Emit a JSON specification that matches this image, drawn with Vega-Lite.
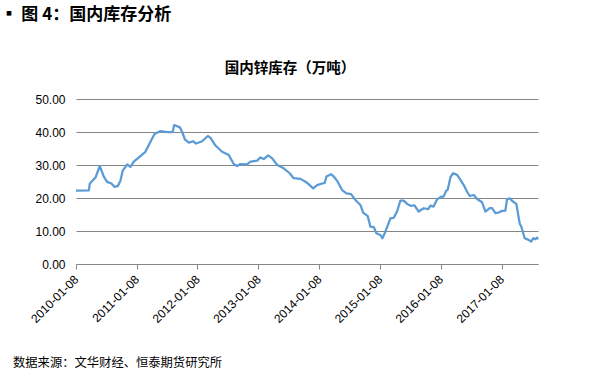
{
  "$schema": "https://vega.github.io/schema/vega-lite/v6.json",
  "padding": {"left": 0, "top": 5, "right": 5, "bottom": 5},
  "background": "white",
  "title": {
    "text": "▪ 图 4：国内库存分析",
    "anchor": "start",
    "frame": "bounds",
    "dx": -12,
    "fontSize": 17,
    "font": "Noto Sans CJK SC",
    "fontWeight": "bold",
    "color": "black",
    "offset": 37
  },
  "vconcat": [
    {
      "width": 462,
      "height": 165,
      "title": {
        "text": "国内锌库存（万吨）",
        "anchor": "middle",
        "frame": "group",
        "dx": -17,
        "fontSize": 14.5,
        "font": "Noto Sans CJK SC",
        "fontWeight": "bold",
        "color": "black",
        "offset": 17
      },
      "data": {
        "values": [
          {"d": "2010-01-08", "v": 22.2},
          {"d": "2010-03-26", "v": 22.3},
          {"d": "2010-04-01", "v": 24.4},
          {"d": "2010-05-05", "v": 26.2},
          {"d": "2010-05-31", "v": 29.7},
          {"d": "2010-06-24", "v": 26.5},
          {"d": "2010-07-14", "v": 24.9},
          {"d": "2010-08-09", "v": 24.4},
          {"d": "2010-08-27", "v": 23.4},
          {"d": "2010-09-16", "v": 23.6},
          {"d": "2010-10-02", "v": 25.2},
          {"d": "2010-10-16", "v": 28.3},
          {"d": "2010-11-12", "v": 30.2},
          {"d": "2010-12-01", "v": 29.4},
          {"d": "2010-12-21", "v": 31.0},
          {"d": "2011-01-30", "v": 32.7},
          {"d": "2011-03-01", "v": 34.0},
          {"d": "2011-04-01", "v": 37.1},
          {"d": "2011-04-25", "v": 39.4},
          {"d": "2011-05-31", "v": 40.3},
          {"d": "2011-07-10", "v": 40.0},
          {"d": "2011-08-12", "v": 40.0},
          {"d": "2011-08-21", "v": 42.1},
          {"d": "2011-09-24", "v": 41.4},
          {"d": "2011-10-08", "v": 40.0},
          {"d": "2011-10-24", "v": 37.8},
          {"d": "2011-11-17", "v": 36.8},
          {"d": "2011-12-13", "v": 37.2},
          {"d": "2011-12-31", "v": 36.5},
          {"d": "2012-02-05", "v": 37.2},
          {"d": "2012-03-10", "v": 38.8},
          {"d": "2012-03-26", "v": 38.2},
          {"d": "2012-04-25", "v": 35.9},
          {"d": "2012-06-04", "v": 34.0},
          {"d": "2012-07-14", "v": 33.0},
          {"d": "2012-08-13", "v": 30.3},
          {"d": "2012-09-02", "v": 29.7},
          {"d": "2012-09-22", "v": 30.3},
          {"d": "2012-11-01", "v": 30.2},
          {"d": "2012-11-21", "v": 31.0},
          {"d": "2012-12-31", "v": 31.3},
          {"d": "2013-01-20", "v": 32.3},
          {"d": "2013-02-09", "v": 31.8},
          {"d": "2013-03-08", "v": 32.9},
          {"d": "2013-04-01", "v": 32.0},
          {"d": "2013-05-01", "v": 30.0},
          {"d": "2013-06-09", "v": 29.0},
          {"d": "2013-07-15", "v": 27.5},
          {"d": "2013-08-08", "v": 26.0},
          {"d": "2013-09-18", "v": 25.8},
          {"d": "2013-10-28", "v": 24.6},
          {"d": "2013-12-03", "v": 22.9},
          {"d": "2013-12-27", "v": 23.9},
          {"d": "2014-01-26", "v": 24.4},
          {"d": "2014-02-11", "v": 24.6},
          {"d": "2014-02-21", "v": 26.5},
          {"d": "2014-03-21", "v": 27.2},
          {"d": "2014-04-06", "v": 26.5},
          {"d": "2014-04-26", "v": 25.2},
          {"d": "2014-05-26", "v": 22.4},
          {"d": "2014-06-21", "v": 21.4},
          {"d": "2014-07-19", "v": 21.2},
          {"d": "2014-08-14", "v": 19.4},
          {"d": "2014-09-13", "v": 17.9},
          {"d": "2014-09-29", "v": 15.6},
          {"d": "2014-10-27", "v": 14.5},
          {"d": "2014-11-12", "v": 11.3},
          {"d": "2014-12-02", "v": 11.2},
          {"d": "2014-12-18", "v": 9.3},
          {"d": "2015-01-11", "v": 8.8},
          {"d": "2015-01-23", "v": 7.8},
          {"d": "2015-02-10", "v": 9.8},
          {"d": "2015-03-12", "v": 13.8},
          {"d": "2015-04-01", "v": 14.0},
          {"d": "2015-04-21", "v": 15.9},
          {"d": "2015-05-11", "v": 19.2},
          {"d": "2015-05-31", "v": 19.2},
          {"d": "2015-06-21", "v": 18.2},
          {"d": "2015-07-15", "v": 17.6},
          {"d": "2015-08-03", "v": 17.8},
          {"d": "2015-08-29", "v": 15.9},
          {"d": "2015-09-28", "v": 16.9},
          {"d": "2015-10-25", "v": 16.6},
          {"d": "2015-11-08", "v": 17.7},
          {"d": "2015-11-27", "v": 17.4},
          {"d": "2015-12-18", "v": 19.6},
          {"d": "2016-01-11", "v": 20.4},
          {"d": "2016-01-26", "v": 20.4},
          {"d": "2016-02-10", "v": 22.2},
          {"d": "2016-02-19", "v": 22.4},
          {"d": "2016-03-07", "v": 26.3},
          {"d": "2016-03-23", "v": 27.5},
          {"d": "2016-04-16", "v": 27.0},
          {"d": "2016-05-06", "v": 25.5},
          {"d": "2016-05-26", "v": 23.9},
          {"d": "2016-06-15", "v": 21.9},
          {"d": "2016-07-01", "v": 20.6},
          {"d": "2016-07-25", "v": 20.9},
          {"d": "2016-08-14", "v": 19.7},
          {"d": "2016-09-13", "v": 18.7},
          {"d": "2016-10-03", "v": 15.9},
          {"d": "2016-10-29", "v": 16.9},
          {"d": "2016-11-12", "v": 16.9},
          {"d": "2016-12-02", "v": 15.4},
          {"d": "2016-12-22", "v": 15.6},
          {"d": "2017-01-11", "v": 16.1},
          {"d": "2017-01-31", "v": 16.2},
          {"d": "2017-02-10", "v": 19.6},
          {"d": "2017-02-26", "v": 19.9},
          {"d": "2017-03-18", "v": 18.9},
          {"d": "2017-04-07", "v": 18.2},
          {"d": "2017-04-27", "v": 12.3},
          {"d": "2017-05-07", "v": 11.3},
          {"d": "2017-05-27", "v": 7.8},
          {"d": "2017-06-20", "v": 7.3},
          {"d": "2017-07-04", "v": 6.8},
          {"d": "2017-07-18", "v": 7.8},
          {"d": "2017-07-30", "v": 7.5},
          {"d": "2017-08-09", "v": 8.0},
          {"d": "2017-08-15", "v": 7.5}
        ]
      },
      "mark": {"type": "line", "color": "#5B9BD5", "strokeWidth": 2.25, "strokeJoin": "round"},
      "encoding": {
        "x": {
          "field": "d",
          "type": "temporal",
          "scale": {
            "type": "utc",
            "domain": [
              {"year": 2010, "month": 1, "date": 8, "utc": true},
              {"year": 2017, "month": 8, "date": 15, "utc": true}
            ],
            "nice": false
          },
          "axis": {
            "values": [
              {"year": 2010, "month": 1, "date": 8, "utc": true},
              {"year": 2011, "month": 1, "date": 8, "utc": true},
              {"year": 2012, "month": 1, "date": 8, "utc": true},
              {"year": 2013, "month": 1, "date": 8, "utc": true},
              {"year": 2014, "month": 1, "date": 8, "utc": true},
              {"year": 2015, "month": 1, "date": 8, "utc": true},
              {"year": 2016, "month": 1, "date": 8, "utc": true},
              {"year": 2017, "month": 1, "date": 8, "utc": true}
            ],
            "labelExpr": "utcFormat(datum.value, '%Y-%m-%d')",
            "labelAngle": 315,
            "labelAlign": "right",
            "labelBaseline": "middle",
            "labelPadding": 8,
            "labelFont": "Liberation Sans",
            "labelFontSize": 12,
            "labelColor": "black",
            "labelOverlap": false,
            "labelFlush": false,
            "grid": false,
            "domainColor": "#868686",
            "domainWidth": 1,
            "tickColor": "#868686",
            "tickSize": 5,
            "title": "数据来源：文华财经、恒泰期货研究所",
            "titleFont": "Noto Sans CJK SC",
            "titleFontSize": 12.3,
            "titleFontWeight": "normal",
            "titleColor": "black",
            "titleAnchor": "start",
            "titleAlign": "left",
            "titleBaseline": "middle",
            "titleX": -63.5,
            "titleY": 98
          }
        },
        "y": {
          "field": "v",
          "type": "quantitative",
          "scale": {"domain": [0, 50], "nice": false},
          "axis": {
            "values": [0, 10, 20, 30, 40, 50],
            "format": ".2f",
            "labelFont": "Liberation Sans",
            "labelFontSize": 12,
            "labelColor": "black",
            "labelPadding": 11,
            "ticks": false,
            "domain": false,
            "gridColor": "#868686",
            "gridWidth": 1,
            "title": null
          }
        }
      }
    }
  ],
  "config": {"view": {"stroke": null}}
}
